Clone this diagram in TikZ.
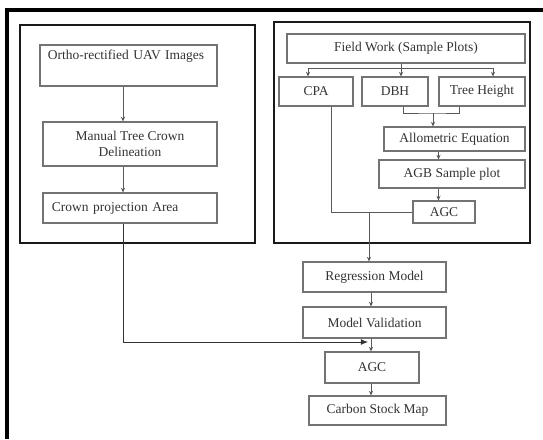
\documentclass[tikz,border=0pt]{standalone}
\usepackage{fontspec}
\setmainfont{Liberation Serif}
\usetikzlibrary{arrows.meta}

\begin{document}
\begin{tikzpicture} [x=0.03cm,y=-0.03cm,font=\fontsize{11.5}{13.8}\selectfont,
		box/.style={draw=black!55,line width=0.9pt,text=black!80,inner sep=0pt},
		frame/.style={draw=black!90,line width=1.8pt},
		arr/.style={draw=black!65,line width=0.7pt,-{Stealth[length=4pt,width=3.5pt]}},
		link/.style={draw=black!65,line width=0.7pt}]
		\useasboundingbox (0,0) rectangle (543,439);
		% outer frame (cut at right and bottom)
		\draw [line width=2.6pt] (7,439) -- (7,10) -- (543,10);
		\draw [frame] (20,25) rectangle (255,243);
		\draw [frame] (274,22) rectangle (530,243);
		% UAV side
		\node (ortho) at (128.5,65.5) [box,minimum width=5.31cm,minimum height=1.23cm,inner xsep=0.24cm,text width=4.83cm,align=left] {Ortho-rectified UAV Images\\\strut};
		\node (manual) at (130,144) [box,minimum width=5.22cm,minimum height=1.32cm,align=center] {Manual Tree Crown\\Delineation};
		\node (crown) at (130,208) [box,minimum width=5.22cm,minimum height=0.9cm,inner xsep=0.27cm,text width=4.68cm,align=left] {Crown projection Area};
		\coordinate (lx) at (123,0);
		\draw [arr] (lx |- ortho.south) -- (lx |- manual.north);
		\draw [arr] (lx |- manual.south) -- (lx |- crown.north);
		% field side
		\node (field) at (406,48.5) [box,minimum width=7.14cm,minimum height=0.87cm] {Field Work (Sample Plots)};
		\node (cpa) at (316,91.5) [box,minimum width=2.22cm,minimum height=0.87cm] {CPA};
		\node (dbh) at (395,91.5) [box,minimum width=1.98cm,minimum height=0.87cm] {DBH};
		\node (height) at (482,91.5) [box,minimum width=2.58cm,minimum height=0.87cm] {Tree Height};
		\node (allo) at (454.5,139) [box,minimum width=4.23cm,minimum height=0.72cm] {Allometric Equation};
		\node (agb) at (452,174) [box,minimum width=4.38cm,minimum height=0.84cm] {AGB Sample plot};
		\node (agcplot) at (444,212) [box,minimum width=1.86cm,minimum height=0.66cm] {AGC};
		\coordinate (brl) at (308,68);
		\coordinate (brm) at (401,68);
		\coordinate (brr) at (493,68);
		\draw [link] (brm |- field.south) -- (brm);
		\draw [link] (brl) -- (brr);
		\draw [arr] (brl) -- (brl |- cpa.north);
		\draw [arr] (brm) -- (brm |- dbh.north);
		\draw [arr] (brr) -- (brr |- height.north);
		\coordinate (mg) at (433,113);
		\draw [link] ([xshift=0.24cm]dbh.south) |- (mg) -| ([xshift=-0.69cm]height.south);
		\draw [arr] (mg) -- (mg |- allo.north);
		\coordinate (rx) at (438.5,0);
		\draw [arr] (rx |- allo.south) -- (rx |- agb.north);
		\draw [arr] (rx |- agb.south) -- (rx |- agcplot.north);
		\draw [link] ([xshift=0.45cm]cpa.south) |- (agcplot.west);
		% model chain
		\node (reg) at (374.5,277) [box,minimum width=4.29cm,minimum height=0.9cm] {Regression Model};
		\node (valid) at (374.5,322.5) [box,minimum width=4.29cm,minimum height=0.93cm] {Model Validation};
		\node (agc) at (372,367.5) [box,minimum width=2.82cm,minimum height=0.93cm] {AGC};
		\node (map) at (377.5,410.5) [box,minimum width=4.11cm,minimum height=0.87cm] {Carbon Stock Map};
		\coordinate (jn) at (369,212);
		\draw [arr] (jn) -- (jn |- reg.north);
		\coordinate (cx) at (371,0);
		\draw [arr] (cx |- reg.south) -- (cx |- valid.north);
		\draw [arr] (cx |- valid.south) -- (cx |- agc.north);
		\draw [arr] (cx |- agc.south) -- (cx |- map.north);
		\coordinate (hit) at (368,342);
		\draw [link,-{Latex[length=6pt,width=5pt]},draw=black!80] (lx |- crown.south) |- (hit);
	\end{tikzpicture}
\end{document}
